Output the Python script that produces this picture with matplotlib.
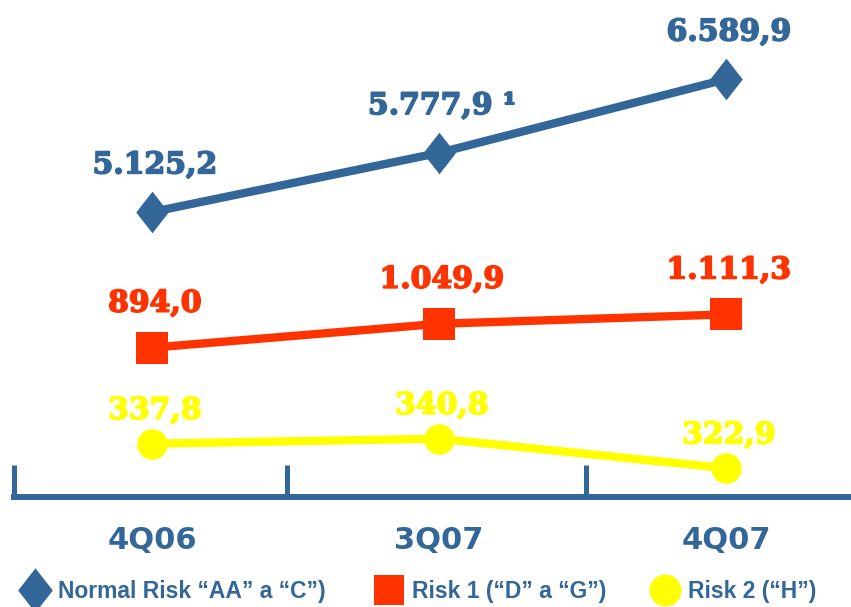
import numpy as np
import matplotlib
matplotlib.use('Agg')
import matplotlib.pyplot as plt
import matplotlib.patheffects as pe
from matplotlib.lines import Line2D

#### Data ###########################################
quarters = ['4Q06', '3Q07', '4Q07']
normal_risk = [5125.2, 5777.9, 6589.9]
risk_1 = [894.0, 1049.9, 1111.3]
risk_2 = [337.8, 340.8, 322.9]
normal_notes = ['', ' \u00b9', '']
legend_labels = ['Normal Risk \u201cAA\u201d a \u201cC\u201d)',
                 'Risk 1 (\u201cD\u201d a \u201cG\u201d)',
                 'Risk 2 (\u201cH\u201d)']
#####################################################

blue = '#336699'
red = '#FF3300'
yellow = '#FFFF00'

# tall diamond used for the "normal risk" series
diamond = [(0, 1), (0.78, 0), (0, -1), (-0.78, 0), (0, 1)]

# Brazilian number format: 5.125,2
def br_format(v):
    s = '{:,.1f}'.format(v)
    return s.replace(',', '#').replace('.', ',').replace('#', '.')

fig = plt.figure(figsize=(8.51, 6.07), dpi=100)
x = np.arange(len(quarters))
xlim = (-0.53, 2.435)

# each series lives in its own band, so give it its own axes
series = [
    (normal_risk, blue, diamond, 30, (771, 7463), 34, normal_notes),
    (risk_1, red, 's', 23, (-801, 3166), 32, ['', '', '']),
    (risk_2, yellow, 'o', 22, (238.8, 606.7), 24, ['', '', '']),
]

for vals, col, mk, ms, ylim, dy, notes in series:
    ax = fig.add_axes([0, 0, 1, 1])
    ax.set_xlim(xlim)
    ax.set_ylim(ylim)
    ax.axis('off')
    ax.patch.set_visible(False)
    ax.plot(x, vals, color=col, lw=6, marker=mk, markersize=ms,
            markeredgewidth=0, solid_capstyle='round', zorder=3)
    for xi, v, n in zip(x, vals, notes):
        ax.annotate(br_format(v) + n, (xi, v), xytext=(2, dy),
                    textcoords='offset points', ha='center', va='center',
                    color=col, fontsize=21.5, fontweight='bold', family='DejaVu Serif',
                    path_effects=[pe.withStroke(linewidth=1.2, foreground=col)])

# category axis along the bottom
base = fig.add_axes([0, 110 / 607., 1, 0.3])
base.set_xlim(xlim)
base.patch.set_visible(False)
for s in ['top', 'left', 'right']:
    base.spines[s].set_visible(False)
base.spines['bottom'].set_color(blue)
base.spines['bottom'].set_linewidth(4.3)
base.spines['bottom'].set_bounds(-0.48, xlim[1])
base.set_yticks([])
base.set_xticks([-0.48, 0.47, 1.51])
base.set_xticklabels([])
base.tick_params(axis='x', which='major', direction='in', length=23,
                 width=3.6, color=blue)
base.set_xticks(x, labels=quarters, minor=True)
base.tick_params(axis='x', which='minor', length=0, pad=21,
                 labelsize=22, labelcolor=blue)
for t in base.get_xticklabels(minor=True):
    t.set_fontweight('bold')
    t.set_family('DejaVu Sans')

# legend entries along the foot of the figure
handles = [
    Line2D([], [], color=blue, marker=diamond, markersize=32, linestyle='None', markeredgewidth=0),
    Line2D([], [], color=red, marker='s', markersize=22, linestyle='None', markeredgewidth=0),
    Line2D([], [], color=yellow, marker='o', markersize=23, linestyle='None', markeredgewidth=0),
]
legend_x = [0.025, 0.441, 0.765]
for h, lab, lx in zip(handles, legend_labels, legend_x):
    leg = fig.legend([h], [lab], loc='center left', bbox_to_anchor=(lx, 0.026),
                     frameon=False, handlelength=1.2, handletextpad=0.4,
                     borderpad=0, borderaxespad=0,
                     prop={'family': 'Liberation Sans', 'weight': 'bold', 'size': 16.5},
                     labelcolor=blue)

fig.savefig('out.png', dpi=100)
